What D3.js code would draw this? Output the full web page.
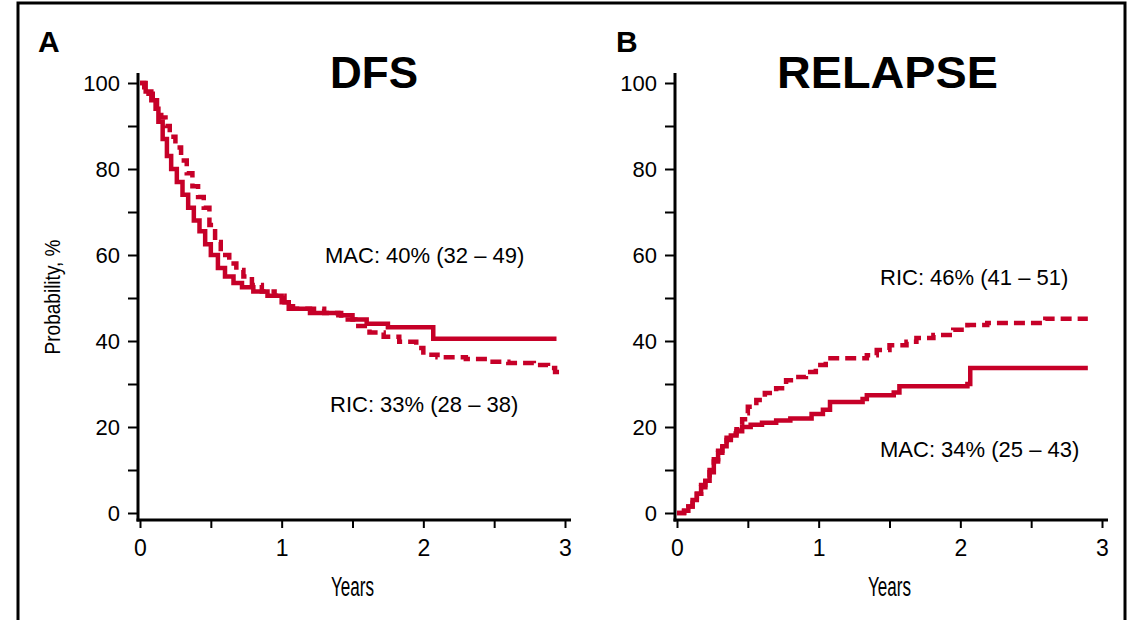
<!DOCTYPE html>
<html>
<head>
<meta charset="utf-8">
<script src="https://cdn.jsdelivr.net/npm/d3@7"></script>
<style>
body { margin: 0; background: #fff; }
svg text { font-family: "Liberation Sans", Arial, Helvetica, sans-serif; fill: #000; }
</style>
</head>
<body>
<svg id="chart" width="1129" height="620"></svg>
<script>
var red = "#c60028";

// DFS, panel A
var dfsMacT = [0, 0.04, 0.08, 0.11, 0.13, 0.16, 0.19, 0.22, 0.26, 0.30, 0.34, 0.38, 0.42, 0.46, 0.50, 0.55, 0.60, 0.66, 0.72, 0.80, 0.90, 1.00, 1.05, 1.20, 1.40, 1.50, 1.60, 1.75, 2.07, 2.94];
var dfsMacV = [100, 98, 96, 94, 91, 87, 83, 80, 77, 74, 71, 68, 65.5, 62.5, 60, 57, 55, 53.5, 52.5, 51.5, 50.5, 49, 47.5, 46.5, 46, 45, 44, 43.2, 40.5, 40.5];
var dfsRicT = [0, 0.03, 0.06, 0.09, 0.12, 0.15, 0.18, 0.21, 0.25, 0.29, 0.33, 0.37, 0.41, 0.45, 0.49, 0.53, 0.57, 0.63, 0.68, 0.73, 0.79, 0.86, 0.95, 1.02, 1.08, 1.30, 1.42, 1.52, 1.62, 1.72, 1.83, 1.95, 2.00, 2.10, 2.30, 2.45, 2.60, 2.78, 2.88, 2.93, 2.96];
var dfsRicV = [100, 99, 97.5, 96, 94, 92, 90, 87.5, 85, 82, 79, 76, 73.5, 71, 67, 63, 60, 58, 56.5, 55, 53, 51.5, 50.5, 49, 47.5, 46.5, 45, 43.5, 42, 41, 39.8, 38.4, 36.8, 36.2, 35.8, 35.2, 34.9, 34.4, 33.7, 32.8, 32.8];

// Relapse, panel B
var relMacT = [0, 0.05, 0.08, 0.11, 0.14, 0.17, 0.20, 0.23, 0.26, 0.29, 0.32, 0.35, 0.38, 0.42, 0.46, 0.52, 0.60, 0.70, 0.80, 0.95, 1.03, 1.08, 1.31, 1.34, 1.53, 1.57, 2.05, 2.07, 2.90];
var relMacV = [0, 0.5, 1.5, 3, 4.5, 6, 7.5, 9.5, 12, 14, 15.5, 17, 18, 19, 20, 20.5, 21, 21.5, 22, 23, 24, 25.8, 26.5, 27.4, 28, 29.5, 30, 33.7, 33.7];
var relRicT = [0, 0.05, 0.08, 0.11, 0.14, 0.17, 0.20, 0.23, 0.26, 0.29, 0.32, 0.35, 0.38, 0.42, 0.44, 0.46, 0.48, 0.50, 0.56, 0.62, 0.70, 0.77, 0.84, 0.91, 0.98, 1.05, 1.34, 1.41, 1.50, 1.62, 1.69, 1.81, 1.95, 2.05, 2.19, 2.60, 2.90];
var relRicV = [0, 0.5, 1.5, 3, 4.5, 6.5, 8, 10, 12.5, 14.5, 16, 17.5, 18.5, 19.5, 20.5, 21.8, 23.2, 24.7, 26.3, 27.9, 29, 30.9, 31.6, 32.8, 34.4, 36, 36.7, 37.9, 39, 39.8, 40.7, 41.4, 42.6, 43.7, 44.2, 45.2, 45.2];

var yTicks = [0, 10, 20, 30, 40, 50, 60, 70, 80, 90, 100];
var xTicks = [0, 0.5, 1, 1.5, 2, 2.5, 3];

var svg = d3.select("#chart");

// outer frame
svg.append("rect")
	.attr("x", 18).attr("y", 3)
	.attr("width", 1107).attr("height", 640)
	.attr("fill", "none").attr("stroke", "#000").attr("stroke-width", 3);

function zip(t, v){
	return t.map(function(d, i){ return {t: d, v: v[i]}; });
}

function drawPanel(p){
	var x = d3.scaleLinear().domain([0, 3]).range([p.x0, p.x0 + 425]);
	var y = d3.scaleLinear().domain([0, 100]).range([513, 83]);

	var yAxis = d3.axisLeft(y)
		.tickValues(yTicks)
		.tickSize(10).tickPadding(8).tickSizeOuter(0)
		.tickFormat(function(d){ return d % 20 == 0 ? d : ""; });
	var gy = svg.append("g")
		.attr("transform", "translate(" + (p.x0 - 2) + ",0)")
		.call(yAxis);
	gy.select(".domain").remove();
	gy.selectAll("line").attr("stroke-width", 2);
	gy.selectAll("text").style("font-size", "22px").style("font-family", null);

	var xAxis = d3.axisBottom(x)
		.tickValues(xTicks)
		.tickSize(8).tickPadding(12).tickSizeOuter(0)
		.tickFormat(function(d){ return d % 1 == 0 ? d : ""; });
	var gx = svg.append("g")
		.attr("transform", "translate(0,520)")
		.call(xAxis);
	gx.select(".domain").remove();
	gx.selectAll("line").attr("stroke-width", 2);
	gx.selectAll("text").style("font-size", "23px").style("font-family", null);

	// axis lines
	svg.append("line")
		.attr("x1", p.x0 - 2).attr("x2", p.x0 - 2)
		.attr("y1", 73).attr("y2", 521.5)
		.attr("stroke", "#000").attr("stroke-width", 3);
	svg.append("line")
		.attr("x1", p.x0 - 3.5).attr("x2", x(3) + 6)
		.attr("y1", 520).attr("y2", 520)
		.attr("stroke", "#000").attr("stroke-width", 3);

	var line = d3.line()
		.x(function(d){ return x(d.t); })
		.y(function(d){ return y(d.v); })
		.curve(d3.curveStepAfter);

	p.series.forEach(function(s){
		svg.append("path")
			.attr("d", line(zip(s.t, s.v)))
			.attr("fill", "none")
			.attr("stroke", red)
			.attr("stroke-width", 4.5)
			.attr("stroke-dasharray", s.dashed ? "11,6" : null);
	});

	svg.append("text")
		.attr("x", p.letterX).attr("y", 52)
		.style("font-size", "30px").style("font-weight", "bold")
		.text(p.letter);

	var title = svg.append("text")
		.attr("x", p.titleX).attr("y", 88)
		.style("font-size", "44px").style("font-weight", "bold")
		.text(p.title);
	if(p.titleLen) title.attr("textLength", p.titleLen).attr("lengthAdjust", "spacingAndGlyphs");

	// x axis title
	svg.append("text")
		.attr("x", x(1.5)).attr("y", 596)
		.attr("text-anchor", "middle")
		.attr("textLength", 43).attr("lengthAdjust", "spacingAndGlyphs")
		.style("font-size", "27px")
		.text("Years");

	p.notes.forEach(function(n){
		svg.append("text")
			.attr("x", n.x).attr("y", n.y)
			.style("font-size", "22px")
			.text(n.text);
	});
}

drawPanel({
	x0: 140, letter: "A", letterX: 38, title: "DFS", titleX: 330,
	series: [{t: dfsMacT, v: dfsMacV, dashed: false}, {t: dfsRicT, v: dfsRicV, dashed: true}],
	notes: [{x: 325, y: 263, text: "MAC: 40% (32 \u2013 49)"}, {x: 330, y: 412, text: "RIC: 33% (28 \u2013 38)"}]
});
drawPanel({
	x0: 677, letter: "B", letterX: 616, title: "RELAPSE", titleX: 777, titleLen: 221,
	series: [{t: relMacT, v: relMacV, dashed: false}, {t: relRicT, v: relRicV, dashed: true}],
	notes: [{x: 880, y: 285, text: "RIC: 46% (41 \u2013 51)"}, {x: 880, y: 457, text: "MAC: 34% (25 \u2013 43)"}]
});

// y axis title, panel A only
svg.append("text")
	.attr("transform", "translate(60,297) rotate(-90)")
	.attr("text-anchor", "middle")
	.attr("textLength", 115).attr("lengthAdjust", "spacingAndGlyphs")
	.style("font-size", "22px")
	.text("Probability, %");
</script>
</body>
</html>
